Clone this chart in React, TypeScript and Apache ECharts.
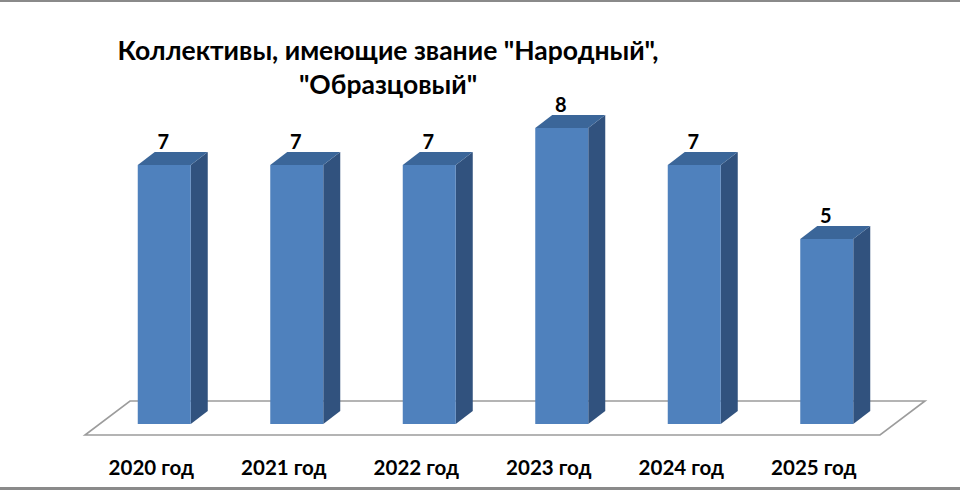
import React, { useEffect, useRef } from "react";
import * as echarts from "echarts";

const categories = ["2020 год", "2021 год", "2022 год", "2023 год", "2024 год", "2025 год"];
const values = [7, 7, 7, 8, 7, 5];
const titleLines = ["Коллективы, имеющие звание \"Народный\",", "\"Образцовый\""];

const FRONT = "#4F81BD";
const SIDE = "#31527E";
const TOP = "#3B6699";
const DX = 17;
const DY = -13;
const FONT = "Lato, 'Open Sans', sans-serif";

export default function App() {
  const ref = useRef<HTMLDivElement>(null);
  useEffect(() => {
    document.body.style.margin = "0";
    const chart = echarts.init(ref.current!, null, { renderer: "svg" });
    chart.setOption({
      animation: false,
      backgroundColor: "#ffffff",
      grid: { left: 98, right: 67, top: 54, bottom: 66 },
      title: {
        text: titleLines.join("\n"),
        left: 383,
        top: 28,
        textAlign: "center",
        textStyle: { fontFamily: FONT, fontWeight: "bold", fontSize: 26.5, lineHeight: 34, color: "#000", align: "center" },
      },
      graphic: [
        { type: "rect", shape: { x: 0, y: 0, width: 960, height: 2 }, style: { fill: "#8a8a8a" }, z: 100 },
        { type: "rect", shape: { x: 0, y: 487, width: 960, height: 3 }, style: { fill: "#8a8a8a" }, z: 100 },
      ],
      xAxis: {
        type: "category",
        data: categories,
        axisLine: { show: false },
        axisTick: { show: false },
        axisLabel: {
          margin: 32,
          fontFamily: FONT,
          fontWeight: "bold",
          fontSize: 20.5,
          color: "#000",
          padding: [0, 26, 0, 0],
        },
      },
      yAxis: { type: "value", min: 0, max: 10, show: false, splitLine: { show: false } },
      series: [
        {
          type: "custom",
          z: 1,
          data: [[0, 0]],
          renderItem: (params: any, api: any) => {
            const n = categories.length;
            const band = api.size([1, 0])[0];
            const p0 = api.coord([0, 0]);
            const p1 = api.coord([n - 1, 0]);
            const l = p0[0] - band / 2;
            const r = p1[0] + band / 2;
            const y = p0[1];
            return {
              type: "polygon",
              shape: {
                points: [
                  [l - 13, y + 11],
                  [r - 13, y + 11],
                  [r + 32, y - 23],
                  [l + 32, y - 23],
                ],
              },
              style: { fill: "#ffffff", stroke: "#9c9c9c", lineWidth: 1.6 },
            };
          },
        },
        {
          type: "custom",
          z: 2,
          data: values.map((v, i) => [i, v]),
          renderItem: (params: any, api: any) => {
            const x = api.value(0);
            const v = api.value(1);
            const top = api.coord([x, v]);
            const base = api.coord([x, 0]);
            const w = api.size([1, 0])[0] * 0.4;
            const l = top[0] - w / 2;
            const r = top[0] + w / 2;
            const t = top[1];
            const b = base[1];
            return {
              type: "group",
              children: [
                {
                  type: "polygon",
                  shape: { points: [[r, t], [r + DX, t + DY], [r + DX, b + DY], [r, b]] },
                  style: { fill: SIDE },
                },
                {
                  type: "polygon",
                  shape: { points: [[l, t], [l + DX, t + DY], [r + DX, t + DY], [r, t]] },
                  style: { fill: TOP },
                },
                {
                  type: "rect",
                  shape: { x: l, y: t, width: w, height: b - t },
                  style: { fill: FRONT },
                },
                {
                  type: "text",
                  x: top[0] - 1,
                  y: t + DY - 1,
                  style: {
                    text: String(v),
                    fontFamily: FONT,
                    fontWeight: "bold",
                    fontSize: 20,
                    fill: "#000",
                    align: "center",
                    verticalAlign: "bottom",
                  },
                },
              ],
            };
          },
        },
      ],
    });
    return () => chart.dispose();
  }, []);
  return <div ref={ref} style={{ width: 960, height: 490 }} />;
}
